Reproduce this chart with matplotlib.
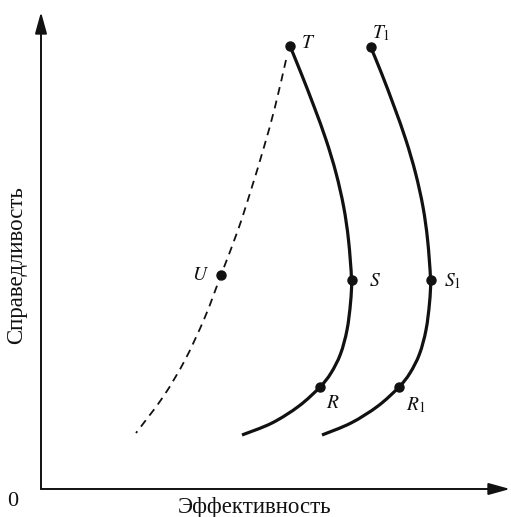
import numpy as np
import matplotlib
matplotlib.use("Agg")
import matplotlib.pyplot as plt
from matplotlib.path import Path
from matplotlib.patches import PathPatch

plt.rcParams['font.family'] = ['Liberation Serif', 'DejaVu Serif']
plt.rcParams['mathtext.fontset'] = 'stix'

# curve through T - S - R (arbitrary units)
curve1_x = [249, 260, 273.2, 285.1, 295, 302.7, 307.5, 310.5, 309.5, 306, 299.5, 290, 279, 258, 231, 201]
curve1_y = [443, 416, 382, 349, 316, 282, 249, 209.5, 186, 159, 135, 116, 102, 83, 66, 54]

# curve through T1 - S1 - R1
curve2_x = [329.7, 340.4, 353.3, 364.9, 374.5, 382, 386.6, 389.5, 388.5, 385, 378.5, 369, 358, 337, 310, 281]
curve2_y = [442, 416, 382, 349, 316, 282, 249, 209.5, 186, 159, 135, 116, 102, 83, 66, 54]

# dashed curve through U
dashed_x = [245, 234, 223, 210, 197, 180, 164, 144, 122, 95]
dashed_y = [429, 382, 342, 299, 259, 214, 172, 129, 92, 56]

# labelled points
point_names = ['$T$', '$S$', '$R$', '$U$', '$T_1$', '$S_1$', '$R_1$']
point_x = [249, 310.5, 279, 180, 330, 389.5, 358]
point_y = [443, 209.5, 102, 214, 442, 209.5, 102]
label_dx = [18, 23, 13, -21, 10, 22, 17]
label_dy = [2, -2, -17, -1, 14, -2, -18]

x_label = 'Эффективность'
y_label = 'Справедливость'


def smooth_path(xs, ys):
    # cubic bezier segments passing through every read point
    pts = np.column_stack([xs, ys]).astype(float)
    verts = [pts[0]]
    codes = [Path.MOVETO]
    n = len(pts)
    for i in range(n - 1):
        p0 = pts[max(i - 1, 0)]
        p1 = pts[i]
        p2 = pts[i + 1]
        p3 = pts[min(i + 2, n - 1)]
        c1 = p1 + (p2 - p0) / 6.0
        c2 = p2 - (p3 - p1) / 6.0
        verts += [c1, c2, p2]
        codes += [Path.CURVE4] * 3
    return Path(verts, codes)


fig = plt.figure(figsize=(5.11, 5.17), dpi=100)
ax = fig.add_axes([0, 0, 1, 1])
ax.set_xlim(-41, 470)
ax.set_ylim(-28, 489)
ax.axis('off')

ink = '#111111'

# axes with arrows
arrow = dict(arrowstyle='-|>,head_length=0.65,head_width=0.18', lw=1.4, color=ink,
             mutation_scale=20, shrinkA=0, shrinkB=0)
ax.annotate('', xy=(469, 0), xytext=(0, 0), arrowprops=arrow)
ax.annotate('', xy=(0, 477), xytext=(0, 0), arrowprops=arrow)

for xs, ys in [(curve1_x, curve1_y), (curve2_x, curve2_y)]:
    ax.add_patch(PathPatch(smooth_path(xs, ys), fill=False, edgecolor=ink, lw=2.3,
                           capstyle='butt'))
ax.add_patch(PathPatch(smooth_path(dashed_x, dashed_y), fill=False, edgecolor=ink,
                       lw=1.3, linestyle=(0, (4.4, 3.3))))

ax.plot(point_x, point_y, 'o', color=ink, markersize=6.5)

for name, px, py, dx, dy in zip(point_names, point_x, point_y, label_dx, label_dy):
    ax.text(px + dx, py + dy, name, fontsize=14, ha='center', va='center', color=ink)

ax.text(-28, -13, '0', fontsize=16, ha='center', va='center', color=ink)
ax.text(214, -18, x_label, fontsize=16.5, ha='center', va='center', color=ink)
ax.text(-24, 224, y_label, fontsize=16.5, ha='center', va='center', rotation=90, color=ink)

fig.savefig('out.png', dpi=100)
